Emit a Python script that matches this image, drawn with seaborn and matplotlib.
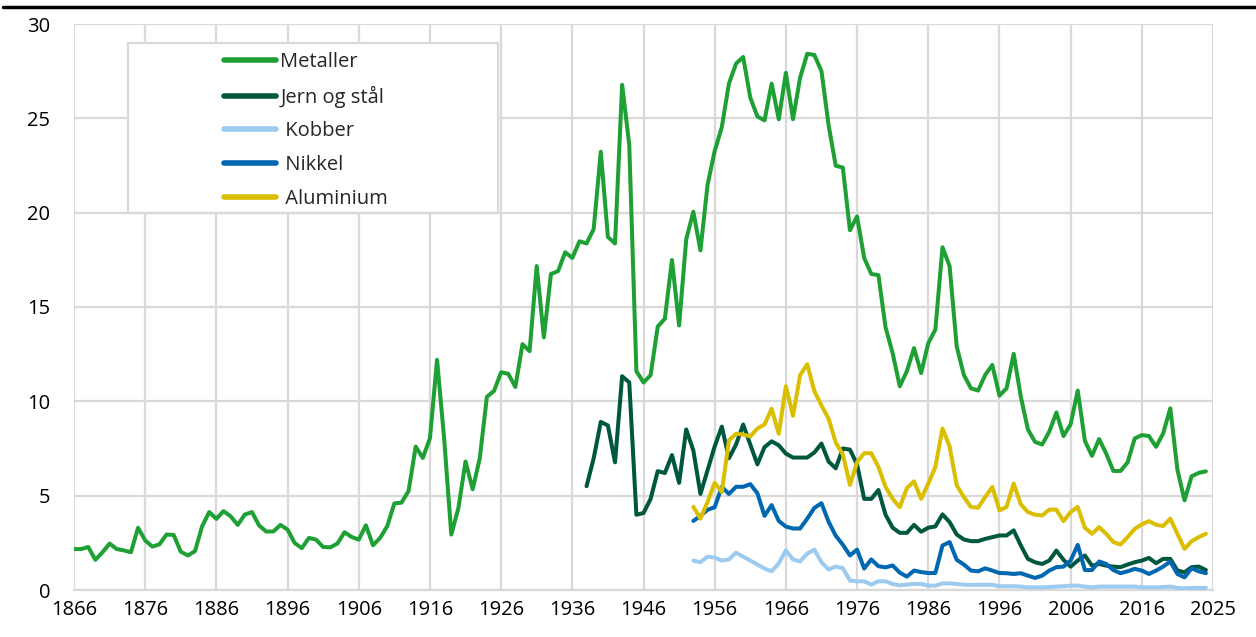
import numpy as np
import pandas as pd
import seaborn as sns
import matplotlib.pyplot as plt
from matplotlib.patches import Rectangle
from matplotlib.lines import Line2D

# data
metaller_start = 1866
metaller = [2.17, 2.17, 2.28, 1.6, 2.0, 2.46, 2.17, 2.1, 2.0, 3.3,
            2.63, 2.3, 2.42, 2.94, 2.92, 2.03, 1.83, 2.06, 3.38, 4.13,
            3.77, 4.18, 3.91, 3.45, 4.0, 4.13, 3.42, 3.1, 3.1, 3.45,
            3.2, 2.49, 2.22, 2.76, 2.67, 2.28, 2.26, 2.46, 3.06, 2.81,
            2.67, 3.43, 2.37, 2.76, 3.38, 4.59, 4.63, 5.25, 7.6, 7.0,
            8.04, 12.2, 8.0, 2.94, 4.35, 6.81, 5.34, 6.98, 10.24, 10.55,
            11.54, 11.46, 10.76, 13.03, 12.66, 17.17, 13.39, 16.75, 16.9, 17.9,
            17.6, 18.48, 18.37, 19.13, 23.23, 18.71, 18.37, 26.78, 23.59, 11.6,
            11.0, 11.39, 13.96, 14.38, 17.49, 14.02, 18.58, 20.05, 18.0, 21.48,
            23.27, 24.53, 26.84, 27.9, 28.25, 26.1, 25.1, 24.89, 26.84, 24.95,
            27.41, 24.95, 27.16, 28.42, 28.36, 27.5, 24.64, 22.49, 22.39, 19.07,
            19.8, 17.6, 16.75, 16.69, 13.92, 12.55, 10.8, 11.6, 12.82, 11.5,
            13.08, 13.8, 18.17, 17.16, 12.9, 11.4, 10.69, 10.57, 11.4, 11.93,
            10.3, 10.69, 12.52, 10.25, 8.51, 7.85, 7.71, 8.39, 9.41, 8.16,
            8.79, 10.57, 7.91, 7.11, 8.0, 7.23, 6.31, 6.31, 6.76, 8.03,
            8.21, 8.16, 7.59, 8.3, 9.63, 6.38, 4.75, 6.03, 6.21, 6.29]

jern_start = 1938
jern = [5.5, 6.98, 8.91, 8.72, 6.77, 11.33, 11.0, 3.99,
        4.08, 4.83, 6.3, 6.2, 7.15, 5.68, 8.51, 7.4, 5.09, 6.35,
        7.61, 8.66, 6.98, 7.71, 8.77, 7.71, 6.66, 7.57, 7.88, 7.67,
        7.23, 7.02, 7.02, 7.02, 7.29, 7.76, 6.81, 6.45, 7.5, 7.44,
        6.66, 4.83, 4.83, 5.3, 3.99, 3.3, 3.03, 3.03, 3.45, 3.09,
        3.3, 3.37, 4.01, 3.6, 2.94, 2.68, 2.59, 2.59, 2.71, 2.8,
        2.89, 2.89, 3.16, 2.36, 1.65, 1.47, 1.38, 1.56, 2.09, 1.6,
        1.24, 1.56, 1.83, 1.29, 1.38, 1.29, 1.24, 1.21, 1.35, 1.47,
        1.56, 1.7, 1.42, 1.65, 1.65, 1.03, 0.94, 1.21, 1.24, 1.06]

other_start = 1953
kobber = [1.56, 1.47, 1.77, 1.72, 1.56, 1.62, 1.98, 1.77, 1.56, 1.35,
          1.14, 0.99, 1.41, 2.1, 1.62, 1.51, 1.93, 2.14, 1.47, 1.09,
          1.24, 1.16, 0.5, 0.46, 0.46, 0.29, 0.46, 0.46, 0.32, 0.25,
          0.29, 0.32, 0.32, 0.23, 0.23, 0.35, 0.35, 0.32, 0.28, 0.27,
          0.27, 0.28, 0.27, 0.2, 0.2, 0.2, 0.18, 0.14, 0.14, 0.14,
          0.16, 0.18, 0.2, 0.23, 0.23, 0.18, 0.14, 0.18, 0.18, 0.18,
          0.18, 0.18, 0.18, 0.14, 0.14, 0.14, 0.16, 0.18, 0.11, 0.09,
          0.11, 0.11, 0.11]
nikkel = [3.66, 3.93, 4.25, 4.39, 5.47, 5.09, 5.47, 5.47, 5.61, 5.13,
          3.93, 4.5, 3.66, 3.36, 3.26, 3.26, 3.78, 4.35, 4.6, 3.62,
          2.88, 2.4, 1.83, 2.14, 1.14, 1.62, 1.26, 1.2, 1.3, 0.92,
          0.71, 1.03, 0.95, 0.9, 0.9, 2.36, 2.54, 1.6, 1.35, 1.03,
          0.99, 1.15, 1.03, 0.9, 0.89, 0.85, 0.89, 0.76, 0.64, 0.76,
          1.03, 1.21, 1.24, 1.56, 2.39, 1.06, 1.06, 1.51, 1.38, 1.06,
          0.89, 0.99, 1.12, 1.03, 0.85, 1.03, 1.24, 1.51, 0.85, 0.67,
          1.15, 0.99, 0.89]
aluminium = [4.41, 3.78, 4.67, 5.68, 5.19, 7.93, 8.28, 8.24, 8.14, 8.56,
             8.77, 9.61, 8.28, 10.8, 9.23, 11.39, 11.96, 10.55, 9.78, 9.08,
             7.82, 7.19, 5.57, 6.77, 7.25, 7.25, 6.52, 5.47, 4.83, 4.39,
             5.4, 5.76, 4.83, 5.64, 6.52, 8.56, 7.62, 5.55, 4.93, 4.4,
             4.36, 4.93, 5.46, 4.22, 4.4, 5.64, 4.54, 4.13, 3.99, 3.95,
             4.26, 4.26, 3.65, 4.13, 4.4, 3.3, 2.98, 3.33, 2.98, 2.54,
             2.41, 2.8, 3.24, 3.48, 3.65, 3.46, 3.39, 3.78, 2.98, 2.18,
             2.59, 2.8, 2.98]

labels = ['Metaller', 'Jern og stål', ' Kobber', ' Nikkel', ' Aluminium']
colors = ['#1fa035', '#00573f', '#9ccbef', '#0067b1', '#dbbe00']
xtick_years = [1866, 1876, 1886, 1896, 1906, 1916, 1926, 1936, 1946, 1956,
               1966, 1976, 1986, 1996, 2006, 2016, 2026]
xtick_labels = [str(y) for y in xtick_years[:-1]] + ['2025']

series = [(metaller_start, metaller), (jern_start, jern), (other_start, kobber),
          (other_start, nikkel), (other_start, aluminium)]
frames = []
for lab, (start, vals) in zip(labels, series):
    frames.append(pd.DataFrame({'year': np.arange(start, start + len(vals)),
                                'value': vals, 'serie': lab}))
df = pd.concat(frames, ignore_index=True)

sns.set_theme(style='white')
plt.rcParams['font.family'] = ['Open Sans', 'DejaVu Sans']

fig = plt.figure(figsize=(12.56, 6.37), dpi=100)
ax = fig.add_axes([74 / 1256, 1 - 590 / 637, (1213 - 74) / 1256, (590 - 24) / 637])

sns.lineplot(data=df, x='year', y='value', hue='serie', hue_order=labels,
             palette=colors, linewidth=2.9, ax=ax, legend=False, zorder=3)

ax.set_xlim(1866, 2026)
ax.set_ylim(0, 30)
ax.set_yticks([0, 5, 10, 15, 20, 25, 30])
ax.set_xticks(xtick_years)
ax.set_xticklabels(xtick_labels)
ax.set_xlabel('')
ax.set_ylabel('')
ax.grid(True, color='#d9d9d9', linewidth=1.6, zorder=0)
ax.set_axisbelow(True)
for side in ['left', 'right', 'top']:
    ax.spines[side].set_visible(False)
ax.spines['bottom'].set_color('#d9d9d9')
ax.spines['bottom'].set_linewidth(1.6)
ax.tick_params(axis='both', length=0, labelsize=14.5, colors='#000000')
ax.tick_params(axis='y', pad=17)
ax.tick_params(axis='x', pad=7)

# legend box
box = Rectangle((54 / 1139, 377 / 566), 370 / 1139, 170 / 566, transform=ax.transAxes,
                facecolor='white', edgecolor='#d9d9d9', linewidth=1.6, zorder=4)
ax.add_patch(box)
handles = [Line2D([0], [0], color=c, linewidth=4, solid_capstyle='round') for c in colors]
leg = ax.legend(handles, labels, loc='upper left', bbox_to_anchor=(150 / 1139, 538 / 566),
                frameon=False, fontsize=14.5, handlelength=2.6, handletextpad=0.2,
                labelspacing=0.68, borderpad=0, borderaxespad=0)
leg.set_zorder(5)

# black rule on top
fig.add_artist(Line2D([3 / 1256, 1], [1 - 7 / 637, 1 - 7 / 637], color='black',
                      linewidth=2.5, transform=fig.transFigure))

fig.savefig('out.png', dpi=100)
